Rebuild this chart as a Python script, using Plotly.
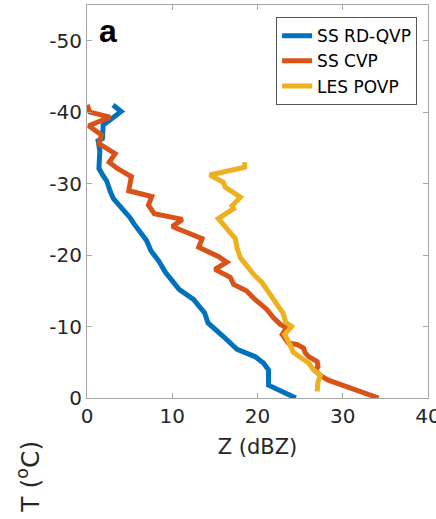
import plotly.graph_objects as go

# Reflectivity profiles vs. temperature
# SS RD-QVP
rdqvp_T = [0, -1.8, -3.9, -4.9, -5.8, -6.8, -8.6, -10.5, -11.9, -13.8, -15.2, -16.2,
           -17.6, -19.2, -20.6, -22.0, -23.0, -24.4, -25.3, -26.7, -27.9, -29.0,
           -30.4, -31.1, -32.1, -34.6, -36.0, -36.3, -38.2, -38.9, -40.1, -41.0]
rdqvp_Z = [24.5, 21.3, 21.3, 20.7, 19.7, 17.6, 16.0, 14.2, 13.8, 12.5, 10.8, 10.1,
           9.2, 8.4, 7.5, 7.0, 6.3, 5.5, 5.0, 4.0, 3.1, 2.7,
           2.3, 1.9, 1.4, 1.5, 1.3, 1.8, 1.9, 2.7, 4.0, 3.05]

# SS CVP
cvp_T = [0, -0.9, -1.8, -2.5, -3.2, -3.9, -4.4, -5.1, -5.8, -6.3, -7.0, -7.5, -7.7,
         -8.9, -9.8, -10.3, -11.2, -12.4, -13.8, -15.0, -15.9, -16.9, -18.0, -19.0,
         -19.8, -21.1, -22.3, -23.0, -24.0, -25.0, -25.8, -27.0, -28.2, -29.0, -31.0,
         -32.1, -33.0, -34.2, -35.6, -36.8, -37.5, -38.1, -39.3, -40.0, -41.0]
cvp_Z = [34.2, 32.0, 29.7, 28.3, 27.3, 26.8, 27.1, 27.0, 26.0, 25.6, 25.4, 24.6, 23.6,
         22.9, 23.4, 22.7, 21.9, 21.1, 19.7, 18.7, 17.2, 16.8, 15.0, 16.4,
         15.4, 13.1, 13.5, 11.9, 10.0, 11.2, 7.9, 7.2, 7.6, 4.9, 5.2,
         3.6, 2.6, 3.3, 1.4, 1.7, 0.9, 0.2, 2.7, 0.35, 0.0]

# LES POVP
povp_T = [-0.9, -2.3, -3.2, -3.9, -4.9, -5.8, -6.4, -7.5, -8.9, -10.0, -10.6, -11.9,
          -13.1, -14.5, -16.2, -17.1, -18.5, -19.6, -21.0, -22.3, -23.7, -25.1, -26.5,
          -26.9, -28.1, -29.5, -30.2, -31.2, -32.3, -33.0]
povp_Z = [27.0, 27.1, 27.4, 26.6, 26.0, 25.0, 24.2, 23.8, 23.2, 24.0, 23.3, 23.0,
          22.3, 21.5, 20.5, 19.7, 18.7, 18.0, 17.6, 17.4, 16.4, 15.4, 17.2,
          17.0, 18.0, 16.2, 16.0, 14.4, 18.5, 18.5]

x_ticks = [0, 10, 20, 30, 40]
x_tick_labels = ["0", "10", "20", "30", "40"]
y_ticks = [-50, -40, -30, -20, -10, 0]
y_tick_labels = ["-50", "-40", "-30", "-20", "-10", "0"]

series = [
    ("SS RD-QVP", rdqvp_Z, rdqvp_T, "#0072BD"),
    ("SS CVP", cvp_Z, cvp_T, "#D95319"),
    ("LES POVP", povp_Z, povp_T, "#EDB120"),
]

fig = go.Figure()
for name, z, t, color in series:
    fig.add_trace(go.Scatter(x=z, y=t, mode="lines", name=name,
                             line=dict(color=color, width=5)))

axis_common = dict(
    showline=True, linecolor="#a6a6a6", linewidth=1, mirror="ticks",
    ticks="inside", ticklen=5, tickcolor="#a6a6a6", showgrid=False,
    zeroline=False, ticklabeloverflow="allow", automargin=False,
    tickfont=dict(family="DejaVu Sans", size=20, color="#262626"),
)

fig.update_layout(
    width=436, height=519,
    margin=dict(l=87, r=8, t=5, b=121),
    paper_bgcolor="white", plot_bgcolor="white",
    xaxis=dict(range=[0, 40], tickvals=x_ticks, ticktext=x_tick_labels,
               title=dict(text="Z (dBZ)", standoff=12,
                          font=dict(family="DejaVu Sans", size=21, color="#262626")),
               **axis_common),
    yaxis=dict(range=[0, -55], tickvals=y_ticks, ticktext=y_tick_labels, **axis_common),
    legend=dict(x=0.968, y=0.969, xanchor="right", yanchor="top",
                bordercolor="#555555", borderwidth=1, bgcolor="white",
                font=dict(family="DejaVu Sans", size=17, color="#000000"),
                tracegroupgap=0, itemwidth=30),
    showlegend=True,
)

fig.add_annotation(text="T (<sup>o</sup>C)", textangle=-90, xref="paper", yref="paper",
                   x=-0.17, y=-0.2, xanchor="center", yanchor="middle", showarrow=False,
                   font=dict(family="DejaVu Sans", size=25, color="#262626"))
fig.add_annotation(text="<b>a</b>", xref="paper", yref="paper",
                   x=0.03, y=0.985, xanchor="left", yanchor="top", showarrow=False,
                   font=dict(family="Liberation Sans", size=32, color="#000000"))

fig.write_html("out.html")
